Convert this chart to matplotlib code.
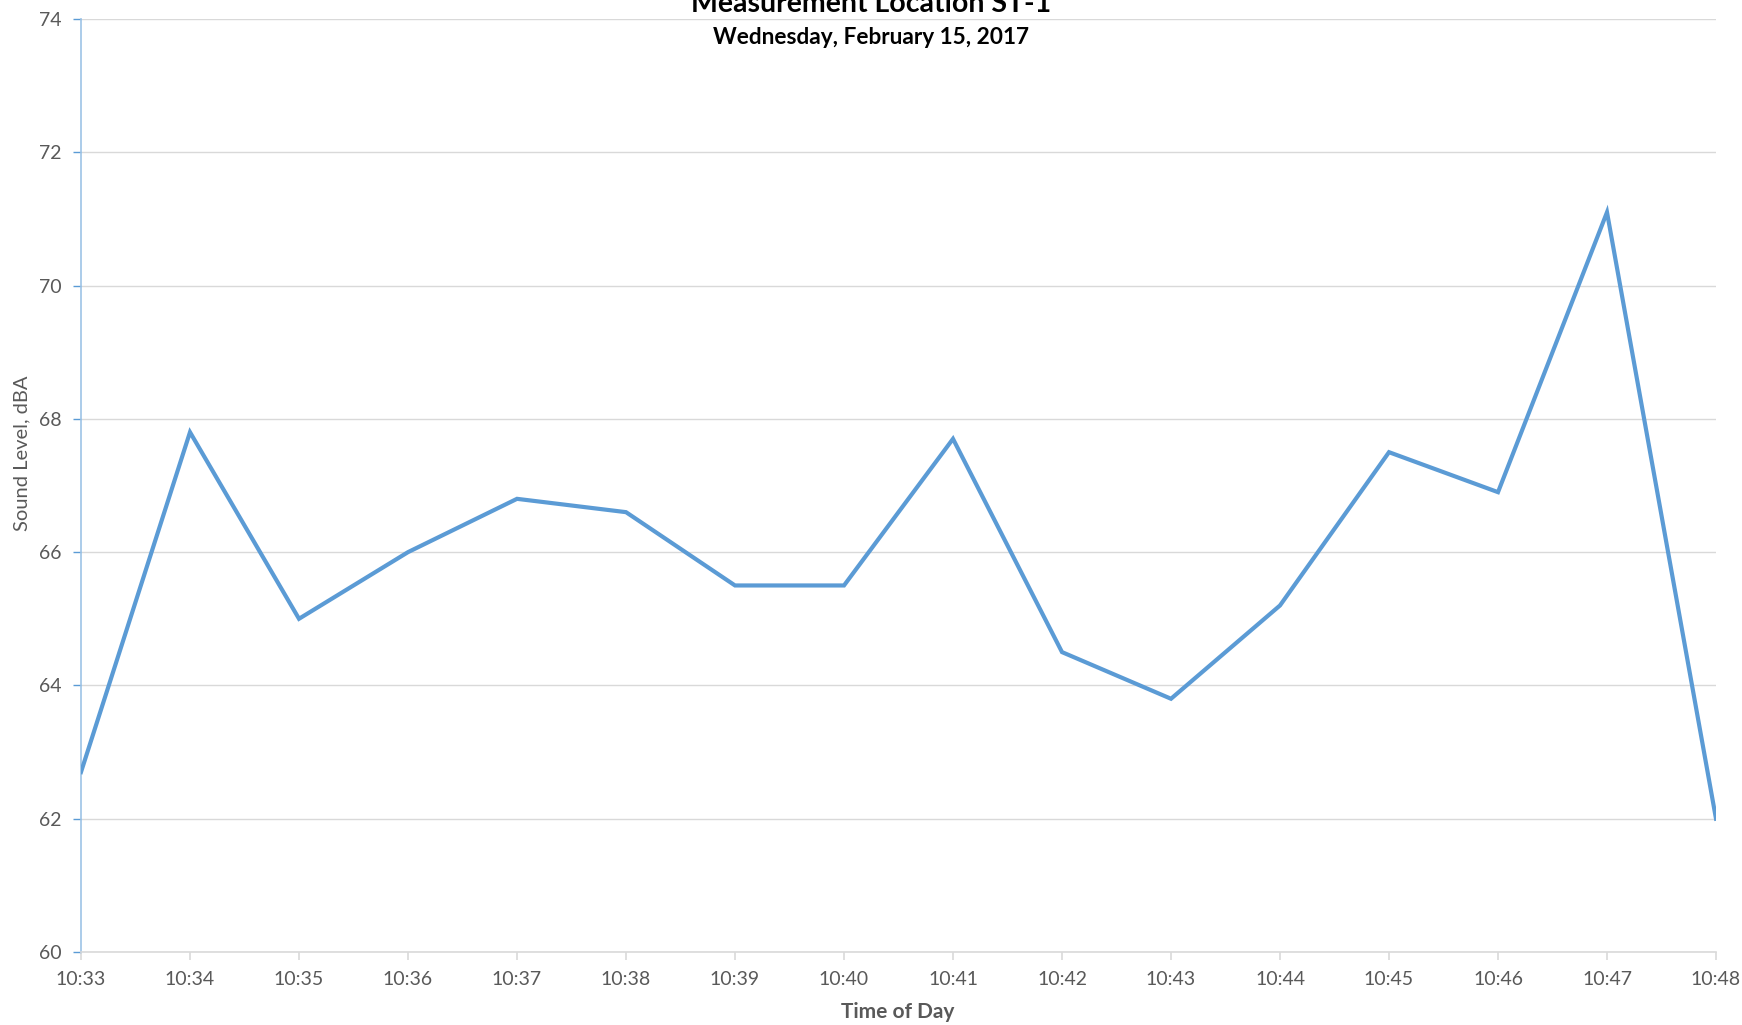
import matplotlib
matplotlib.use("Agg")
import matplotlib.pyplot as plt
import numpy as np

times = ["10:33", "10:34", "10:35", "10:36", "10:37", "10:38", "10:39", "10:40",
         "10:41", "10:42", "10:43", "10:44", "10:45", "10:46", "10:47", "10:48"]
levels = [62.7, 67.8, 65.0, 66.0, 66.8, 66.6, 65.5, 65.5,
          67.7, 64.5, 63.8, 65.2, 67.5, 66.9, 71.1, 62.0]
yticks = [60, 62, 64, 66, 68, 70, 72, 74]

plt.rcParams['font.family'] = ['Lato', 'DejaVu Sans']

W, H = 1742, 1025
fig = plt.figure(figsize=(W / 100, H / 100), dpi=100)
left, right, top, bottom = 81, 1716, 19, 952
ax = fig.add_axes([left / W, 1 - bottom / H, (right - left) / W, (bottom - top) / H])

x = np.arange(len(times))
ax.plot(x, levels, color="#5b9bd5", lw=3.0, solid_joinstyle="miter", zorder=3)

ax.set_xlim(0, len(times) - 1)
ax.set_ylim(60, 74)
ax.set_xticks(x)
ax.set_xticklabels(times)
ax.set_yticks(yticks)
ax.set_yticklabels([str(v) for v in yticks])

ax.grid(axis="y", color="#d9d9d9", lw=1.0)
ax.set_axisbelow(True)
for s in ["top", "right"]:
    ax.spines[s].set_visible(False)
ax.spines["left"].set_color("#9dc3e6")
ax.spines["left"].set_linewidth(1.2)
ax.spines["bottom"].set_color("#d9d9d9")
ax.spines["bottom"].set_linewidth(1.2)

ax.tick_params(axis="y", colors="#5b9bd5", length=6, width=1.0, labelcolor="#595959",
               labelsize=14, pad=8)
ax.tick_params(axis="x", colors="#d9d9d9", length=6, width=1.2, labelcolor="#595959",
               labelsize=14, pad=8)

fig.text(898 / W, 1 - 1012 / H, "Time of Day", ha="center", va="center",
         fontsize=15, fontweight="bold", color="#595959")
fig.text(22 / W, 1 - 453 / H, "Sound Level, dBA", ha="center", va="center",
         rotation=90, fontsize=14.5, color="#595959")
fig.text(871 / W, 1 - 4 / H, "Measurement Location ST-1", ha="center", va="center",
         fontsize=20.5, fontweight="bold", color="black")
fig.text(871 / W, 1 - 37 / H, "Wednesday, February 15, 2017", ha="center", va="center",
         fontsize=16.3, fontweight="bold", color="black")

fig.savefig("out.png", dpi=100, facecolor="white")
